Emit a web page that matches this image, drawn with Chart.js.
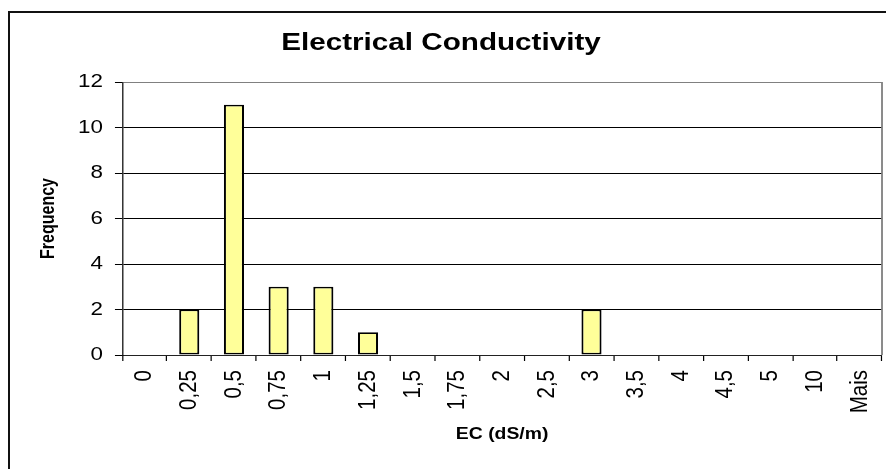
<!DOCTYPE html>
<html>
<head>
<meta charset="utf-8">
<title>Electrical Conductivity</title>
<script src="https://cdn.jsdelivr.net/npm/chart.js@4/dist/chart.umd.min.js"></script>
<style>
  html, body { margin: 0; padding: 0; background: #fff; overflow: hidden; }
  #wrap { position: relative; width: 886px; height: 469px; }
</style>
</head>
<body>
<div id="wrap"><canvas id="chart"></canvas></div>
<script>
// Histogram bins (EC classes) and their frequencies
const categories = ['0', '0,25', '0,5', '0,75', '1', '1,25', '1,5', '1,75', '2', '2,5', '3', '3,5', '4', '4,5', '5', '10', 'Mais'];
const frequency  = [0, 2, 11, 3, 3, 1, 0, 0, 0, 0, 2, 0, 0, 0, 0, 0, 0];

// Frequency axis range
const yMin = 0;
const yMax = 12;
const yStep = 2;

// Drawing is widened horizontally by this factor (wide text style)
const STRETCH = 1.21;
const FONT = '"Liberation Sans", Arial, Helvetica, sans-serif';

const stretchPlugin = {
  id: 'stretch',
  beforeDraw(chart) {
    chart.ctx.save();
    chart.ctx.scale(STRETCH, 1);
  },
  afterDraw(chart) {
    const ctx = chart.ctx;
    const a = chart.chartArea;
    // grey plot-area edge on the right
    ctx.save();
    ctx.strokeStyle = '#808080';
    ctx.lineWidth = 1.5;
    ctx.beginPath();
    ctx.moveTo(a.right, a.top);
    ctx.lineTo(a.right, a.bottom);
    ctx.stroke();
    ctx.restore();
    ctx.restore();
    // chart frame (left and top edges)
    ctx.save();
    ctx.fillStyle = '#111';
    ctx.fillRect(8, 11, 2, chart.height - 11);
    ctx.fillRect(8, 11, chart.width - 8, 2);
    ctx.restore();
  }
};

new Chart(document.getElementById('chart'), {
  type: 'bar',
  data: {
    labels: categories,
    datasets: [{
      label: 'Frequency',
      data: frequency,
      backgroundColor: '#FFFF99',
      borderColor: '#000',
      borderWidth: (c) => (c.raw === 0 ? 0 : 1.7),
      borderSkipped: false,
      barPercentage: 0.45,
      categoryPercentage: 1.0
    }]
  },
  options: {
    responsive: true,
    maintainAspectRatio: false,
    animation: false,
    devicePixelRatio: 1,
    layout: {
      padding: { left: 0, top: 0, bottom: 0, right: 886 - 886 / STRETCH + 3.3 }
    },
    plugins: {
      legend: { display: false },
      tooltip: { enabled: false },
      title: {
        display: true,
        text: 'Electrical Conductivity',
        color: '#000',
        font: { family: FONT, size: 24.5, weight: 'bold', lineHeight: 1.2 },
        padding: { top: 28.3, bottom: 24.3 }
      }
    },
    scales: {
      x: {
        afterFit(scale) { scale.height = 114; },
        grid: {
          display: true,
          drawOnChartArea: false,
          drawTicks: true,
          tickLength: 6,
          offset: true,
          color: '#000'
        },
        border: { display: true, color: '#222', width: 1 },
        ticks: {
          autoSkip: false,
          maxRotation: 90,
          minRotation: 90,
          padding: 9,
          color: '#000',
          font: { family: FONT, size: 20.5 }
        },
        title: {
          display: true,
          text: 'EC (dS/m)',
          color: '#000',
          font: { family: FONT, size: 16, weight: 'bold', lineHeight: 1.2 },
          padding: { top: 0, bottom: 24.4 }
        }
      },
      y: {
        min: yMin,
        max: yMax,
        afterFit(scale) { scale.width = 101; },
        grid: {
          color: (c) => (c.tick && c.tick.value === yMax ? '#808080' : '#000'),
          tickColor: '#000',
          lineWidth: 1,
          drawTicks: true,
          tickLength: 6
        },
        border: { display: true, color: '#000', width: 1 },
        ticks: {
          stepSize: yStep,
          padding: 10,
          color: '#000',
          font: { family: FONT, size: 18.5 }
        },
        title: {
          display: true,
          text: 'Frequency',
          color: '#000',
          font: { family: FONT, size: 16, weight: 'bold', lineHeight: 1.2 },
          padding: { top: 30.9, bottom: 0 }
        }
      }
    }
  },
  plugins: [stretchPlugin]
});
</script>
</body>
</html>
